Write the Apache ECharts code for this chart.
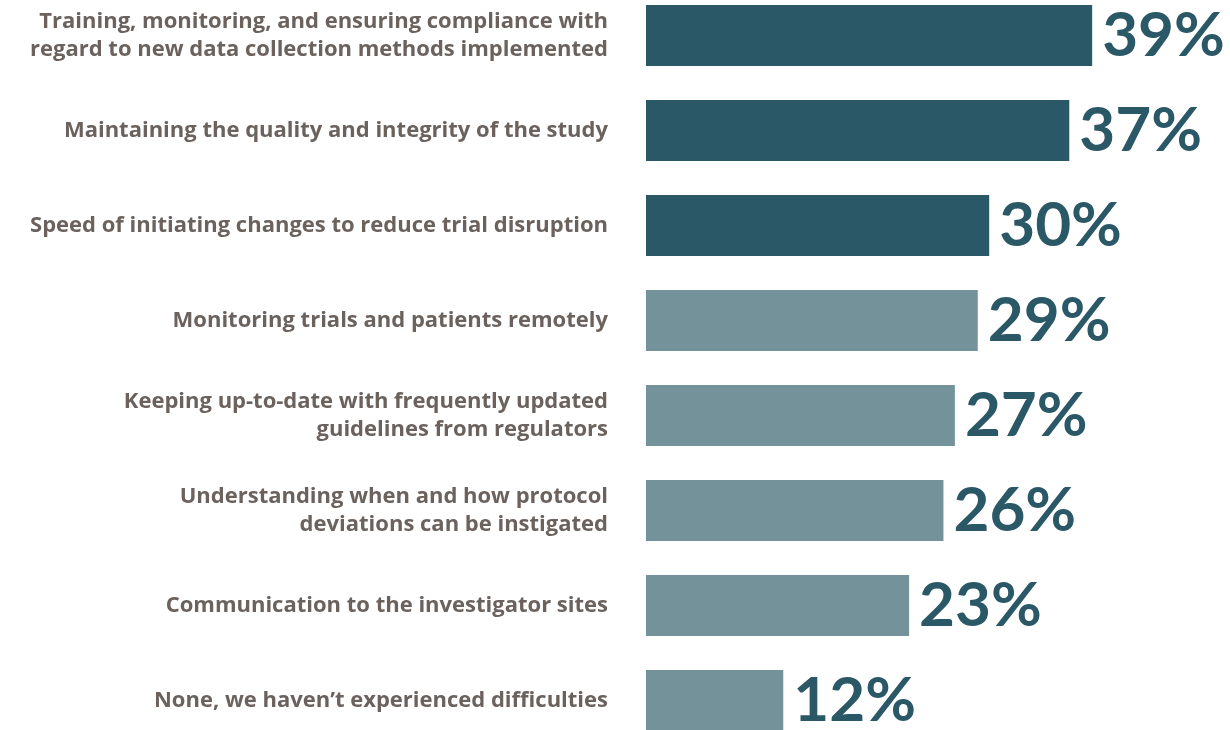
<!DOCTYPE html>
<html>
<head>
<meta charset="utf-8">
<script src="https://cdn.jsdelivr.net/npm/echarts@6/dist/echarts.min.js"></script>
<style>
  html, body { margin: 0; padding: 0; background: #fff; }
  #chart { width: 1230px; height: 730px; }
</style>
</head>
<body>
<div id="chart"></div>
<script>
// 数据
const categories = [
  'Training, monitoring, and ensuring compliance with\nregard to new data collection methods implemented',
  'Maintaining the quality and integrity of the study',
  'Speed of initiating changes to reduce trial disruption',
  'Monitoring trials and patients remotely',
  'Keeping up-to-date with frequently updated\nguidelines from regulators',
  'Understanding when and how protocol\ndeviations can be instigated',
  'Communication to the investigator sites',
  'None, we haven\u2019t experienced difficulties'
]
const values = [39, 37, 30, 29, 27, 26, 23, 12]
// 前三项深色
const highlighted = [true, true, true, false, false, false, false, false]

const darkColor = '#2b5867'
const lightColor = '#74929a'

const chart = echarts.init(document.getElementById('chart'))
chart.setOption({
  animation: false,
  grid: {
    left: 646,
    right: 12,
    top: -12,
    bottom: -18,
    outerBoundsMode: 'none'
  },
  xAxis: {
    type: 'value',
    min: 0,
    max: 50,
    show: false
  },
  yAxis: {
    type: 'category',
    inverse: true,
    data: categories,
    axisLine: { show: false },
    axisTick: { show: false },
    axisLabel: {
      margin: 38,
      color: '#6b625d',
      fontFamily: 'Open Sans',
      fontWeight: 'bold',
      fontSize: 22,
      lineHeight: 28,
      align: 'right'
    }
  },
  series: [{
    type: 'bar',
    barWidth: 61,
    data: values.map((v, i) => ({
      value: v,
      itemStyle: { color: highlighted[i] ? darkColor : lightColor }
    })),
    label: {
      show: true,
      position: 'right',
      distance: 10,
      formatter: '{c}%',
      color: darkColor,
      fontFamily: 'Lato',
      fontWeight: 'bold',
      fontSize: 62
    }
  }]
})
</script>
</body>
</html>
